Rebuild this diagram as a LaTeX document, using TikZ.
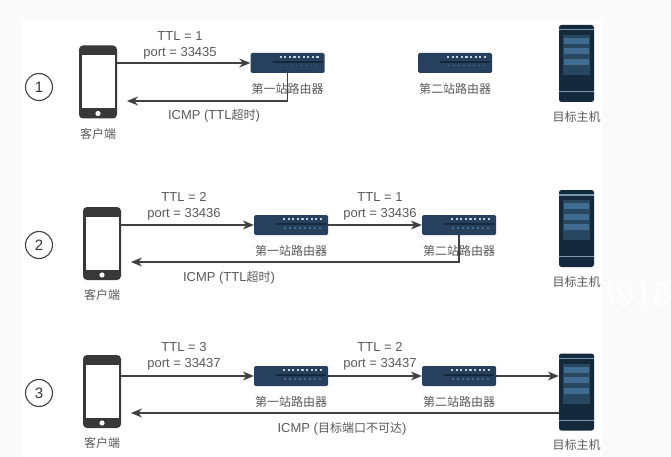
\documentclass[tikz,border=0pt]{standalone}
\usepackage{fontspec}
\setmainfont{Liberation Sans}
\newfontfamily\cjk{Noto Sans CJK SC}
\usetikzlibrary{arrows.meta,positioning}
\definecolor{navy}{HTML}{26405E}
\definecolor{rack}{HTML}{14293B}
\definecolor{slot}{HTML}{3F6C8F}
\definecolor{txt}{HTML}{5A5A5A}
\newcommand{\zh}[1]{{\cjk\fontsize{12}{14}\selectfont #1}}
\begin{document}
\begin{tikzpicture}[x=1pt, y=-1pt,
  every node/.style={font=\fontsize{13}{16}\selectfont, text=txt, inner sep=0pt},
  stepno/.style={circle, draw=black!75, line width=1.1pt, minimum size=27pt, font=\fontsize{15}{15}\selectfont, text=black!80},
  phone/.style={rectangle, rounded corners=4pt, fill=black!78, minimum width=38pt, minimum height=73pt,
    path picture={
      \fill[white, sharp corners] ([shift={(2.5pt,-10pt)}]path picture bounding box.north west) rectangle ([shift={(-2.5pt,10pt)}]path picture bounding box.south east);
      \fill[white] ([yshift=5pt]path picture bounding box.south) circle (2.6pt);
    }},
  router/.style={rectangle, rounded corners=1.5pt, fill=navy, minimum width=74pt, minimum height=20pt,
    path picture={
      \begin{scope}[sharp corners]
      \foreach \i in {0,...,8}
        \fill[white!70!slot] ([shift={(29pt+\i*4.6pt,-3pt)}]path picture bounding box.north west) rectangle ++(2.2pt,-2pt);
      \draw[rack, line width=1.4pt] ([shift={(22pt,-9pt)}]path picture bounding box.north west) -- ++(50pt,0pt);
      \foreach \i in {0,...,7}
        \fill[slot] ([shift={(30pt+\i*5pt,-12pt)}]path picture bounding box.north west) rectangle ++(1.5pt,-1.5pt);
      \end{scope}
    }},
  server/.style={rectangle, rounded corners=2.5pt, fill=rack, minimum width=35pt, minimum height=77pt,
    path picture={
      \begin{scope}[sharp corners]
      \fill[slot!70] ([shift={(0pt,-4pt)}]path picture bounding box.north west) rectangle ++(35pt,-1.5pt);
      \fill[slot!70] ([shift={(0pt,11pt)}]path picture bounding box.south west) rectangle ++(35pt,-1.2pt);
      \fill[slot!45!rack] ([shift={(4pt,-10pt)}]path picture bounding box.north west) rectangle ++(27pt,-40pt);
      \foreach \i in {0,1,2}
        \fill[slot] ([shift={(5pt,-13pt-\i*10.5pt)}]path picture bounding box.north west) rectangle ++(25pt,-6pt);
      \end{scope}
    }},
  arr/.style={-{Stealth[length=11pt, width=9pt]}, line width=1.1pt, black!75},
  back/.style={arr, rounded corners=0pt}]

\fill[black!2] (0,0) rectangle (671,457);
\fill[white] (22,20) rectangle (602,457);
\node[text=white, font=\fontsize{33}{33}\selectfont, anchor=west] (mark) at (597,294) {3918};

% first round
\node[stepno] (n1) at (39,87) {1};
\node[phone] (c1) at (98,82) {};
\node[below=9pt of c1] (cl1) {\zh{客户端}};
\node[router] (ra1) at (287.5,63) {};
\node[below=10pt of ra1] (ral1) {\zh{第一站路由器}};
\node[router] (rb1) at (455,63) {};
\node[below=10pt of rb1] (rbl1) {\zh{第二站路由器}};
\node[server] (s1) at (576.5,63.5) {};
\node[below=9pt of s1] (sl1) {\zh{目标主机}};
\node[align=center] (t1) at (180,45) {TTL = 1\\port = 33435};
\coordinate (b1) at (127,101);
\draw[arr] (c1.east |- ra1) -- (ra1);
\draw[back] (ra1.south) |- (b1);
\node (i1) at (214,116) {ICMP (TTL\zh{超时})};

% second round
\node[stepno] (n2) at (39,245) {2};
\node[phone] (c2) at (102,243.5) {};
\node[below=9pt of c2] (cl2) {\zh{客户端}};
\node[router] (ra2) at (291,225) {};
\node[below=10pt of ra2] (ral2) {\zh{第一站路由器}};
\node[router] (rb2) at (459,225) {};
\node[below=10pt of rb2] (rbl2) {\zh{第二站路由器}};
\node[server] (s2) at (576.5,228.5) {};
\node[below=9pt of s2] (sl2) {\zh{目标主机}};
\node[align=center] (t2) at (184,206) {TTL = 2\\port = 33436};
\node[align=center] (t3) at (380,206) {TTL = 1\\port = 33436};
\coordinate (b2) at (131,262);
\draw[arr] (c2.east |- ra2) -- (ra2);
\draw[arr] (ra2) -- (rb2);
\draw[back] (rb2.south) |- (b2);
\node (i2) at (229,278) {ICMP (TTL\zh{超时})};

% third round
\node[stepno] (n3) at (39,393) {3};
\node[phone] (c3) at (102,391.5) {};
\node[below=9pt of c3] (cl3) {\zh{客户端}};
\node[router] (ra3) at (291,376) {};
\node[below=10pt of ra3] (ral3) {\zh{第一站路由器}};
\node[router] (rb3) at (459,376) {};
\node[below=10pt of rb3] (rbl3) {\zh{第二站路由器}};
\node[server] (s3) at (576.5,392) {};
\node[below=9pt of s3] (sl3) {\zh{目标主机}};
\node[align=center] (t4) at (184,356) {TTL = 3\\port = 33437};
\node[align=center] (t5) at (380,356) {TTL = 2\\port = 33437};
\coordinate (b3) at (131,413);
\draw[arr] (c3.east |- ra3) -- (ra3);
\draw[arr] (ra3) -- (rb3);
\draw[arr] (rb3) -- (s3.west |- rb3);
\draw[back] (s3.west |- b3) -- (b3);
\node (i3) at (342,429) {ICMP (\zh{目标端口不可达})};
\useasboundingbox (0,0) rectangle (671,457);
\end{tikzpicture}
\end{document}
